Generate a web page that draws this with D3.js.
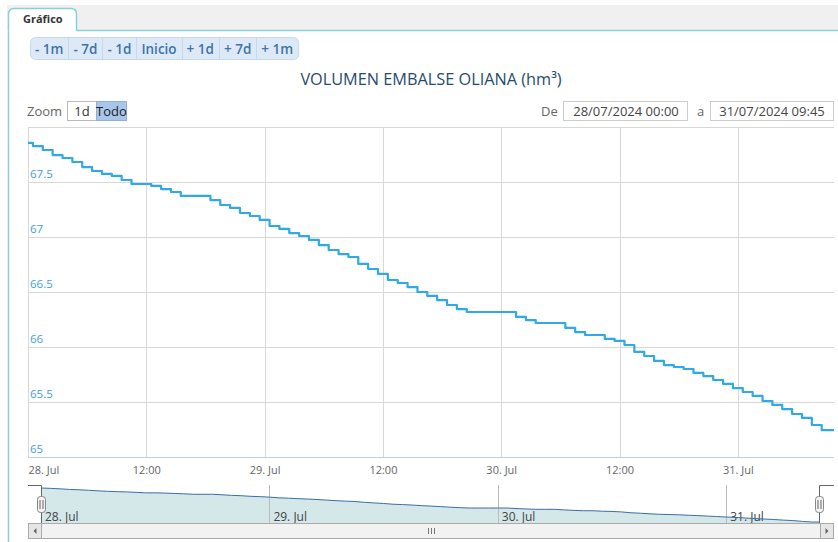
<!DOCTYPE html>
<html>
<head>
<meta charset="utf-8">
<script src="https://cdn.jsdelivr.net/npm/d3@7"></script>
<style>
body { margin: 0; background: #fff; font-family: "Open Sans", sans-serif; }
</style>
</head>
<body>
<script>
// Data: hourly readings, 28/07/2024 00:00 -> 31/07/2024 09:45
var startTime = new Date(2024, 6, 28, 0, 0);
var endTime = new Date(2024, 6, 31, 9, 45);
var volume = [
  67.855, 67.827, 67.791, 67.745, 67.718, 67.682, 67.636, 67.600, 67.573, 67.555,
  67.518, 67.482, 67.482, 67.464, 67.436, 67.409, 67.373, 67.373, 67.373, 67.336,
  67.291, 67.264, 67.218, 67.191, 67.155, 67.100, 67.073, 67.036, 67.009, 66.973,
  66.927, 66.882, 66.845, 66.818, 66.755, 66.709, 66.664, 66.609, 66.582, 66.545,
  66.500, 66.464, 66.427, 66.382, 66.345, 66.318, 66.318, 66.318, 66.318, 66.318,
  66.273, 66.245, 66.218, 66.218, 66.218, 66.173, 66.136, 66.109, 66.109, 66.073,
  66.055, 66.018, 65.955, 65.918, 65.873, 65.836, 65.818, 65.800, 65.764, 65.736,
  65.700, 65.664, 65.627, 65.591, 65.555, 65.509, 65.473, 65.436, 65.391, 65.355,
  65.291, 65.245
];
var yTicks = [65, 65.5, 66, 66.5, 67, 67.5, 68];
var rangeButtons = ["- 1m", "- 7d", "- 1d", "Inicio", "+ 1d", "+ 7d", "+ 1m"];
var zoomButtons = ["1d", "Todo"];
var title = "VOLUMEN EMBALSE OLIANA (hm\u00b3)";
var tabLabel = "Gr\u00e1fico";
var fromLabel = "28/07/2024 00:00", toLabel = "31/07/2024 09:45";

var width = 838, height = 542;

var data = volume.map(function(v, i) { return { t: d3.timeHour.offset(startTime, i), v: v }; });
data.push({ t: endTime, v: volume[volume.length - 1] });

var svg = d3.select("body").append("svg")
    .attr("width", width)
    .attr("height", height)
    .style("display", "block");

// Tab header
svg.append("rect").attr("x", 7).attr("y", 5).attr("width", width - 7).attr("height", 25).attr("fill", "#f0f0f0");
svg.append("path")
    .attr("d", "M8.5,30.5 V14 Q8.5,8.5 14,8.5 H71 Q76.5,8.5 76.5,14 V30.5")
    .attr("fill", "#fff").attr("stroke", "#8ad2d2").attr("stroke-width", 1.5);
svg.append("path")
    .attr("d", "M76.5,30.5 H" + width + " M8.5,30.5 V" + height)
    .attr("fill", "none").attr("stroke", "#8ad2d2").attr("stroke-width", 1.5);
svg.append("text").attr("x", 23).attr("y", 23)
    .style("font-size", "11px").style("font-weight", "bold").attr("fill", "#333")
    .text(tabLabel);

// Range buttons
var btnG = svg.append("g");
var btnBg = btnG.append("rect").attr("x", 30.5).attr("y", 37.5).attr("height", 22).attr("rx", 5)
    .attr("fill", "#dde9f6").attr("stroke", "#c6daee");
var bx = 30;
rangeButtons.forEach(function(lbl, i) {
  var t = btnG.append("text").attr("y", 54)
      .style("font-size", "13.5px").style("font-weight", "600").attr("fill", "#3d74ab")
      .text(lbl);
  var w = t.node().getComputedTextLength() + 10;
  t.attr("x", bx + 5);
  bx += w;
  if (i < rangeButtons.length - 1) {
    btnG.append("line").attr("x1", Math.round(bx) + 0.5).attr("x2", Math.round(bx) + 0.5)
        .attr("y1", 38).attr("y2", 59).attr("stroke", "#c6daee");
  }
});
btnBg.attr("width", bx - 30);

// Title
svg.append("text").attr("x", 431).attr("y", 85).attr("text-anchor", "middle")
    .style("font-size", "16.3px").attr("fill", "#274b6d").text(title);

// Zoom row
svg.append("text").attr("x", 27).attr("y", 116).style("font-size", "13px").attr("fill", "#666").text("Zoom");
svg.append("rect").attr("x", 67.5).attr("y", 101.5).attr("width", 29).attr("height", 19)
    .attr("fill", "#fff").attr("stroke", "#bbb");
svg.append("rect").attr("x", 96.5).attr("y", 101.5).attr("width", 30).attr("height", 19)
    .attr("fill", "#a8c6ea").attr("stroke", "#8fb0d8");
svg.append("text").attr("x", 82).attr("y", 116).attr("text-anchor", "middle")
    .style("font-size", "13px").attr("fill", "#333").text(zoomButtons[0]);
svg.append("text").attr("x", 111.5).attr("y", 116).attr("text-anchor", "middle")
    .style("font-size", "13px").attr("fill", "#222").text(zoomButtons[1]);

// Date inputs
svg.append("text").attr("x", 541).attr("y", 116).style("font-size", "13px").attr("fill", "#666").text("De");
svg.append("rect").attr("x", 563.5).attr("y", 101.5).attr("width", 124).attr("height", 19)
    .attr("fill", "#fff").attr("stroke", "#ccc");
svg.append("text").attr("x", 626).attr("y", 116).attr("text-anchor", "middle")
    .style("font-size", "13px").attr("fill", "#444").text(fromLabel);
svg.append("text").attr("x", 697).attr("y", 116).style("font-size", "13px").attr("fill", "#666").text("a");
svg.append("rect").attr("x", 710.5).attr("y", 101.5).attr("width", 123).attr("height", 19)
    .attr("fill", "#fff").attr("stroke", "#ccc");
svg.append("text").attr("x", 772).attr("y", 116).attr("text-anchor", "middle")
    .style("font-size", "13px").attr("fill", "#444").text(toLabel);

// Main chart
var x = d3.scaleTime().domain([startTime, endTime]).range([28, 834]);
var y = d3.scaleLinear().domain([65, 68]).range([457, 127]);
var xTicks = d3.timeHour.every(12).range(startTime, endTime);
var fmtDay = d3.timeFormat("%-d. %b"), fmtHour = d3.timeFormat("%H:%M");
var xLabel = function(d) { return d.getHours() === 0 ? fmtDay(d) : fmtHour(d); };

var grid = svg.append("g");
grid.selectAll(".hg").data(yTicks).enter().append("line")
    .attr("x1", 28).attr("x2", 834)
    .attr("y1", function(d) { return Math.round(y(d)) + 0.5; })
    .attr("y2", function(d) { return Math.round(y(d)) + 0.5; })
    .attr("stroke", "#d8d8d8");
grid.selectAll(".vg").data(xTicks).enter().append("line")
    .attr("x1", function(d) { return Math.round(x(d)) + 0.5; })
    .attr("x2", function(d) { return Math.round(x(d)) + 0.5; })
    .attr("y1", 127).attr("y2", 457)
    .attr("stroke", "#d8d8d8");
svg.append("line").attr("x1", 28).attr("x2", 834).attr("y1", 457.5).attr("y2", 457.5).attr("stroke", "#c0d0e0");

// y labels sit inside the plot, above their grid line
var yAxis = svg.append("g").attr("transform", "translate(28,0)")
    .call(d3.axisRight(y).tickValues(yTicks.slice(0, -1)).tickSize(0).tickPadding(2).tickFormat(d3.format("")));
yAxis.select(".domain").remove();
yAxis.selectAll("text").attr("dy", "-0.4em").style("font-size", "11.5px")
    .style("font-family", "'Open Sans', sans-serif").attr("fill", "#3fa0dd");

var xAxis = svg.append("g").attr("transform", "translate(0,457)")
    .call(d3.axisBottom(x).tickValues(xTicks).tickSize(0).tickPadding(9).tickFormat(xLabel));
xAxis.select(".domain").remove();
xAxis.selectAll("text").style("font-size", "11px")
    .style("font-family", "'Open Sans', sans-serif").attr("fill", "#666");
xAxis.select(".tick text").attr("text-anchor", "start");

var line = d3.line()
    .curve(d3.curveStep)
    .x(function(d) { return x(d.t); })
    .y(function(d) { return y(d.v); });
svg.append("path").datum(data)
    .attr("d", line)
    .attr("fill", "none")
    .attr("stroke", "#2fa9e8")
    .attr("stroke-width", 2.2)
    .attr("stroke-linejoin", "round");

// Navigator
var xNav = d3.scaleTime().domain([startTime, endTime]).range([41, 819]);
var yNav = d3.scaleLinear().domain(d3.extent(volume)).range([522, 488]);
var area = d3.area()
    .x(function(d) { return xNav(d.t); })
    .y0(523)
    .y1(function(d) { return yNav(d.v); });
svg.append("path").datum(data).attr("d", area).attr("fill", "#d4e8e9");
var navTicks = d3.timeDay.every(1).range(startTime, endTime);
svg.selectAll(".ng").data(navTicks.slice(1)).enter().append("line")
    .attr("x1", function(d) { return Math.round(xNav(d)) + 0.5; })
    .attr("x2", function(d) { return Math.round(xNav(d)) + 0.5; })
    .attr("y1", 485).attr("y2", 523).attr("stroke", "#bbb");
svg.selectAll(".nl").data(navTicks).enter().append("text")
    .attr("x", function(d) { return xNav(d) + 4; })
    .attr("y", 521)
    .style("font-size", "12px").attr("fill", "#444")
    .text(fmtDay);
svg.append("path").datum(data)
    .attr("d", d3.line().x(function(d) { return xNav(d.t); }).y(function(d) { return yNav(d.v); }))
    .attr("fill", "none").attr("stroke", "#3b6ea5").attr("stroke-width", 1);
svg.append("path")
    .attr("d", "M28,485.5 H41.5 V523 M819.5,523 V485.5 H834")
    .attr("fill", "none").attr("stroke", "#666");

// Scrollbar
svg.append("rect").attr("x", 28.5).attr("y", 523.5).attr("width", 805).attr("height", 15)
    .attr("fill", "#eee").attr("stroke", "#bbb");
svg.append("rect").attr("x", 41.5).attr("y", 523.5).attr("width", 779).attr("height", 15)
    .attr("fill", "#f2f2f2").attr("stroke", "#aaa").attr("rx", 1);
[28.5, 820.5].forEach(function(px, i) {
  svg.append("rect").attr("x", px).attr("y", 523.5).attr("width", 13).attr("height", 15)
      .attr("fill", "#e6e6e6").attr("stroke", "#aaa");
  var cx = px + 6.5;
  svg.append("path")
      .attr("d", i === 0 ? "M" + (cx + 1.5) + ",528 L" + (cx - 1.5) + ",531 L" + (cx + 1.5) + ",534 Z"
                         : "M" + (cx - 1.5) + ",528 L" + (cx + 1.5) + ",531 L" + (cx - 1.5) + ",534 Z")
      .attr("fill", "#666");
});
[-3, 0, 3].forEach(function(d) {
  svg.append("line").attr("x1", 431.5 + d).attr("x2", 431.5 + d).attr("y1", 528).attr("y2", 534)
      .attr("stroke", "#777");
});

// Navigator handles
[41, 819].forEach(function(hx) {
  svg.append("rect").attr("x", hx - 3.5).attr("y", 496.5).attr("width", 8).attr("height", 16).attr("rx", 3)
      .attr("fill", "#f2f2f2").attr("stroke", "#888");
  [-1, 2].forEach(function(d) {
    svg.append("line").attr("x1", hx + d).attr("x2", hx + d).attr("y1", 500).attr("y2", 509).attr("stroke", "#666");
  });
});
</script>
</body>
</html>
